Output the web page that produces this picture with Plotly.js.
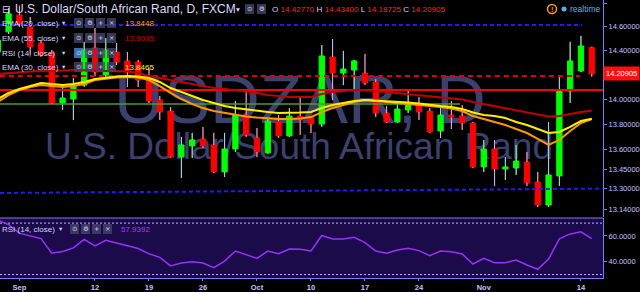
<!DOCTYPE html>
<html><head><meta charset="utf-8">
<script src="https://cdn.plot.ly/plotly-3.0.1.min.js"></script>
<style>html,body{margin:0;padding:0;background:#000;}#chart{width:640px;height:292px;}</style>
</head><body><div id="chart"></div>
<script>
// ---------------- data ----------------
const dates = ['2016-08-30','2016-08-31','2016-09-01','2016-09-02','2016-09-05','2016-09-06','2016-09-07','2016-09-08','2016-09-09',
'2016-09-12','2016-09-13','2016-09-14','2016-09-15','2016-09-16','2016-09-19','2016-09-20','2016-09-21','2016-09-22','2016-09-23',
'2016-09-26','2016-09-27','2016-09-28','2016-09-29','2016-09-30','2016-10-03','2016-10-04','2016-10-05','2016-10-06','2016-10-07',
'2016-10-10','2016-10-11','2016-10-12','2016-10-13','2016-10-14','2016-10-17','2016-10-18','2016-10-19','2016-10-20','2016-10-21',
'2016-10-24','2016-10-25','2016-10-26','2016-10-27','2016-10-28','2016-10-31','2016-11-01','2016-11-02','2016-11-03','2016-11-04',
'2016-11-07','2016-11-08','2016-11-09','2016-11-10','2016-11-11','2016-11-14','2016-11-15'];
const openP = [14.390,14.558,14.700,14.600,14.465,14.383,13.973,14.005,14.118,14.424,14.200,14.390,14.316,14.307,14.159,13.997,13.908,13.544,13.631,13.686,13.639,13.428,13.607,13.876,13.694,13.576,13.828,13.710,13.868,13.860,13.804,14.349,14.216,14.241,14.216,14.143,13.892,13.820,13.916,13.948,13.908,13.749,13.876,13.868,13.812,13.467,13.607,13.451,13.459,13.505,13.350,13.174,13.397,14.070,14.233,14.4277];
const highP = [14.507,14.760,14.780,14.683,14.490,14.407,14.094,14.175,14.474,14.590,14.507,14.465,14.390,14.324,14.258,14.029,13.940,13.702,13.734,13.781,13.734,13.734,13.989,14.078,13.773,13.852,13.876,13.932,14.013,13.868,14.448,14.498,14.399,14.325,14.374,14.167,13.948,13.973,14.086,14.021,13.932,13.932,13.989,13.956,13.820,13.678,13.678,13.544,13.639,13.583,13.428,13.820,14.183,14.474,14.524,14.434];
const lowP = [14.380,14.540,14.600,14.366,14.350,13.965,13.916,13.836,14.102,14.192,14.175,14.282,14.102,14.102,13.973,13.836,13.537,13.381,13.537,13.615,13.420,13.389,13.583,13.702,13.544,13.570,13.694,13.702,13.718,13.733,13.781,13.997,14.118,14.078,14.118,13.860,13.812,13.812,13.892,13.836,13.735,13.694,13.765,13.757,13.459,13.428,13.319,13.366,13.405,13.319,13.159,13.159,13.320,13.973,14.225,14.18725];
const closeP = [14.490,14.710,14.625,14.432,14.366,13.973,14.013,14.110,14.407,14.224,14.407,14.307,14.224,14.159,13.989,13.900,13.544,13.639,13.678,13.631,13.428,13.607,13.876,13.718,13.583,13.828,13.710,13.868,13.836,13.804,14.357,14.216,14.249,14.316,14.135,13.892,13.820,13.924,13.956,13.900,13.741,13.876,13.860,13.812,13.467,13.607,13.451,13.467,13.513,13.343,13.174,13.405,14.070,14.316,14.440,14.20905];
const ema20 = [13.981,14.037,14.078,14.102,14.118,14.110,14.102,14.110,14.127,14.159,14.171,14.179,14.183,14.179,14.159,14.110,14.054,14.005,13.965,13.932,13.908,13.892,13.876,13.864,13.856,13.848,13.844,13.844,13.848,13.860,13.900,13.932,13.956,13.981,13.997,13.989,13.981,13.973,13.969,13.961,13.948,13.940,13.928,13.908,13.868,13.844,13.820,13.796,13.765,13.733,13.686,13.639,13.678,13.749,13.812,13.8448];
const ema30 = [14.005,14.054,14.086,14.110,14.135,14.127,14.118,14.127,14.143,14.167,14.179,14.188,14.192,14.188,14.175,14.143,14.094,14.062,14.029,13.997,13.973,13.948,13.932,13.920,13.908,13.900,13.892,13.892,13.896,13.900,13.932,13.956,13.973,13.989,13.997,13.993,13.985,13.981,13.977,13.969,13.956,13.948,13.940,13.924,13.896,13.876,13.868,13.852,13.820,13.796,13.765,13.733,13.741,13.781,13.828,13.8465];
const ema55 = [14.208,14.216,14.224,14.229,14.233,14.233,14.237,14.241,14.241,14.237,14.233,14.233,14.229,14.216,14.192,14.175,14.159,14.143,14.127,14.110,14.094,14.086,14.078,14.066,14.054,14.037,14.029,14.021,14.021,14.021,14.045,14.062,14.070,14.078,14.078,14.070,14.062,14.054,14.045,14.037,14.029,14.021,14.013,14.001,13.981,13.965,13.948,13.932,13.916,13.900,13.880,13.864,13.868,13.884,13.900,13.9095];
const rsi14 = [72.4,68.9,62.2,60.2,58.0,46.6,47.9,50.7,57.3,52.2,56.7,54.6,52.4,50.2,46.1,43.4,36.7,39.0,40.0,39.0,35.3,40.5,48.3,45.6,42.6,48.3,46.2,49.9,49.6,48.3,60.4,57.7,57.7,59.0,54.9,48.3,46.5,49.1,50.4,48.6,44.7,48.3,47.8,46.0,38.2,42.6,39.2,39.2,41.3,37.4,34.1,42.1,57.7,61.6,63.3,57.9392];
const tickDates = ['2016-09-01','2016-09-12','2016-09-19','2016-09-26','2016-10-03','2016-10-10','2016-10-17','2016-10-24','2016-11-01','2016-11-14'];
const tickText = ['Sep','12','19','26','Oct','10','17','24','Nov','14'];
const priceTicks = [14.8,14.6,14.4,14.0,13.8,13.6,13.45,13.3,13.14];
const rsiTicks = [60,40];
const rsiLevels = [70,30];
// drawn horizontal levels (price, first bar index, last bar index)
const levelPrice = [14.616,14.192,14.078,13.965];
const levelFrom  = [0.2,0.2,0.2,0.2];
const levelTo    = [54.1,53.9,56.2,42.8];
// drawn trend line (bar index, price)
const trendX = [0.2,55.76];
const trendY = [13.266,13.299];

// ---------------- layout helpers ----------------
const FONT = 'Liberation Sans, Arial, sans-serif';
const W=640,H=292,ML=0,MR=37,MT=0,MB=14;
const PW=W-ML-MR, PH=H-MT-MB;            // 603 x 278
const xr=[0.204,56.04];
const pxToX = p => xr[0] + p*(xr[1]-xr[0])/PW;
const PRICE_BOTTOM_PX = 217, RSI_TOP_PX = 218;
const priceDom=[1-PRICE_BOTTOM_PX/PH,1], rsiDom=[0,1-RSI_TOP_PX/PH];
const AX='#7b7bff', TXT='#c4c4ff', LBL='#d4d4ff';
const idx = dates.map((d,i)=>i);
const N = dates.length;

const traces = [];
// watermark (base subplot, drawn beneath the price subplot)
traces.push({type:'scatter',mode:'text',x:[pxToX(300)],y:[1-106/PRICE_BOTTOM_PX],text:['USDZAR, D'],
  textfont:{family:FONT,size:69,color:'#3c406f'},xaxis:'x',yaxis:'y',hoverinfo:'skip',cliponaxis:false});
traces.push({type:'scatter',mode:'text',x:[pxToX(299)],y:[1-150/PRICE_BOTTOM_PX],text:['U.S. Dollar/South African Rand'],
  textfont:{family:FONT,size:37,color:'#3c406f'},xaxis:'x',yaxis:'y',hoverinfo:'skip',cliponaxis:false});

// candles
traces.push({type:'candlestick',x:idx,open:openP,high:highP,low:lowP,close:closeP,xaxis:'x',yaxis:'y3',
  increasing:{line:{color:'#00ff00',width:1},fillcolor:'#00ff00'},
  decreasing:{line:{color:'#ff0000',width:1},fillcolor:'#ff0000'},whiskerwidth:0,hoverinfo:'skip'});
// wicks in light lavender (upper and lower parts only)
const wx=[],wy=[];
for(let i=0;i<N;i++){
  const top=Math.max(openP[i],closeP[i]), bot=Math.min(openP[i],closeP[i]);
  wx.push(i,i,null,i,i,null); wy.push(highP[i],top,null,bot,lowP[i],null);
}
traces.push({type:'scatter',mode:'lines',x:wx,y:wy,xaxis:'x',yaxis:'y3',line:{color:'#c0c0ff',width:1},connectgaps:false,hoverinfo:'skip'});

// horizontal drawn levels
const levelStyle=[{color:'#1c1cff',width:2,dash:'4px,3px'},{color:'#e00000',width:2,dash:'5px,4px'},{color:'#ff0000',width:2},{color:'#4e9a35',width:1.5}];
levelPrice.forEach((p,k)=>traces.push({type:'scatter',mode:'lines',x:[levelFrom[k],levelTo[k]],y:[p,p],xaxis:'x',yaxis:'y3',line:levelStyle[k],hoverinfo:'skip'}));
traces.push({type:'scatter',mode:'lines',x:trendX,y:trendY,xaxis:'x',yaxis:'y3',line:{color:'#1c1cff',width:2,dash:'4px,3px'},hoverinfo:'skip'});

// EMAs
traces.push({type:'scatter',mode:'lines',x:idx,y:ema55,xaxis:'x',yaxis:'y3',line:{color:'#c00000',width:2},hoverinfo:'skip'});
traces.push({type:'scatter',mode:'lines',x:idx,y:ema20,xaxis:'x',yaxis:'y3',line:{color:'#ff9800',width:2},hoverinfo:'skip'});
traces.push({type:'scatter',mode:'lines',x:idx,y:ema30,xaxis:'x',yaxis:'y3',line:{color:'#ffee00',width:2},hoverinfo:'skip'});

// RSI
rsiLevels.forEach(v=>traces.push({type:'scatter',mode:'lines',x:[xr[0],xr[1]],y:[v,v],xaxis:'x',yaxis:'y2',line:{color:'#b8b8ff',width:1,dash:'2px,2px'},hoverinfo:'skip'}));
traces.push({type:'scatter',mode:'lines',x:idx,y:rsi14,xaxis:'x',yaxis:'y2',line:{color:'#9a30ff',width:1.5},hoverinfo:'skip'});

// ---------------- overlays (legend rows, buttons, labels) ----------------
const shapes=[], ann=[];
const paperX = p=>p/PW, paperY = p=>1-p/PH;
function txt(x,y,text,o){return Object.assign({xref:'paper',yref:'paper',x:paperX(x),y:paperY(y),text:text,showarrow:false,
  xanchor:'left',yanchor:'middle',borderpad:0,font:{family:FONT,size:8,color:LBL}},o||{});}
function btn(x,y,glyph,fill){
  shapes.push({type:'rect',xref:'paper',yref:'paper',x0:paperX(x),x1:paperX(x+9),y0:paperY(y+5),y1:paperY(y-5),
    fillcolor:fill,opacity:0.78,line:{width:0},layer:'above'});
  ann.push(txt(x+4.5,y,glyph,{xanchor:'center',font:{family:'DejaVu Sans',size:6.5,color:'#dcdcf5'}}));
}
// RSI panel background & separator
shapes.push({type:'rect',xref:'paper',yref:'paper',x0:0,x1:1,y0:rsiDom[0],y1:rsiDom[1],fillcolor:'#1b0b4a',line:{width:0},layer:'below'});
shapes.push({type:'line',xref:'paper',yref:'paper',x0:0,x1:1,y0:rsiDom[1],y1:rsiDom[1],line:{color:AX,width:1},layer:'above'});

// title row
ann.push(txt(1,9,'⊟',{font:{family:'DejaVu Sans',size:10,color:LBL}}));
ann.push(txt(14,9,'U.S. Dollar/South African Rand, D, FXCM',{font:{family:FONT,size:12,color:'#dcdcff'}}));
ann.push(txt(235,9,'▾',{font:{family:'DejaVu Sans',size:7.5,color:LBL}}));
btn(245,9,'⊙','#45456a'); btn(257,9,'⚙','#45456a');
const L=N-1, f5=v=>v.toFixed(5), lab=s=>'<span style="color:'+LBL+'">'+s+'</span>';
ann.push(txt(271,9,lab('O')+' '+f5(openP[L])+' '+lab('H')+' '+f5(highP[L])+' '+lab('L')+' '+f5(lowP[L])+' '+lab('C')+' '+f5(closeP[L]),
  {font:{family:FONT,size:8.1,color:'#ff2020'}}));

// indicator legend rows
const rows=[{t:'EMA (20, close)',y:23,v:ema20[L].toFixed(4),c:'#ff9800'},
            {t:'EMA (55, close)',y:38,v:ema55[L].toFixed(4),c:'#d00000'},
            {t:'RSI (14, close)',y:53,v:'',c:'',hl:true},
            {t:'EMA (30, close)',y:67,v:ema30[L].toFixed(4),c:'#ffff00'}];
rows.forEach(r=>{
  ann.push(txt(1,r.y,r.t));
  ann.push(txt(61,r.y,'▾',{font:{family:'DejaVu Sans',size:6.5,color:LBL}}));
  btn(74,r.y,'⊙',r.hl?'#4a90e6':'#45456a'); btn(85,r.y,'⚙','#45456a'); btn(96,r.y,'+','#45456a'); btn(107,r.y,'×','#45456a');
  if(r.v) ann.push(txt(124,r.y,r.v,{font:{family:FONT,size:8,color:r.c}}));
});
// RSI pane legend
ann.push(txt(1,229,'RSI (14, close)'));
ann.push(txt(58,229,'▾',{font:{family:'DejaVu Sans',size:6.5,color:LBL}}));
btn(70,229,'⊙','#45456a'); btn(81,229,'⚙','#45456a'); btn(92,229,'+','#45456a'); btn(103,229,'×','#45456a');
ann.push(txt(120,229,rsi14[L].toFixed(4),{font:{family:FONT,size:8,color:'#a040ff'}}));

// top-right status
shapes.push({type:'circle',xref:'paper',yref:'paper',x0:paperX(547.5),x1:paperX(556.5),y0:paperY(13.5),y1:paperY(4.5),line:{color:'#ff9800',width:1.5},layer:'above'});
ann.push(txt(552,9,'!',{xanchor:'center',font:{family:FONT,size:7,color:'#ff9800',weight:'bold'}}));
shapes.push({type:'circle',xref:'paper',yref:'paper',x0:paperX(561.5),x1:paperX(566.5),y0:paperY(11.5),y1:paperY(6.5),fillcolor:'#4ab4f0',line:{width:0},layer:'above'});
ann.push(txt(569,9,'realtime',{font:{family:FONT,size:8.5,color:'#5ab4e6'}}));

// last price marker on the axis
ann.push({xref:'paper',yref:'y3',x:1,y:Math.log10(closeP[L]),xanchor:'left',yanchor:'middle',showarrow:false,
  text:closeP[L].toFixed(5),bgcolor:'#ff1010',borderpad:2,font:{family:FONT,size:7.5,color:'#ffffff'}});

const tickFont={family:FONT,size:7.5,color:TXT};
const layout={
  width:W,height:H,margin:{l:ML,r:MR,t:MT,b:MB,pad:0},
  paper_bgcolor:'#000000',plot_bgcolor:'rgba(0,0,0,0)',
  showlegend:false,hovermode:false,dragmode:false,
  xaxis:{range:xr,anchor:'y2',domain:[0,1],showgrid:false,zeroline:false,showline:true,linecolor:AX,linewidth:1,
    ticks:'outside',ticklen:2,tickcolor:AX,tickmode:'array',tickvals:tickDates.map(d=>dates.indexOf(d)),ticktext:tickText,
    tickfont:{family:FONT,size:7.5,color:TXT,weight:'bold'},rangeslider:{visible:false},fixedrange:true},
  yaxis:{domain:priceDom,range:[0,1],visible:false,fixedrange:true},
  yaxis3:{overlaying:'y',type:'log',range:[Math.log10(13.0835),Math.log10(14.828)],side:'right',anchor:'x',
    showgrid:false,zeroline:false,showline:true,linecolor:AX,linewidth:1,ticks:'outside',ticklen:3,tickcolor:AX,
    tickmode:'array',tickvals:priceTicks,ticktext:priceTicks.map(v=>v.toFixed(5)),tickfont:tickFont,fixedrange:true},
  yaxis2:{domain:rsiDom,range:[27.3,74.0],side:'right',anchor:'x',showgrid:false,zeroline:false,showline:true,
    linecolor:AX,linewidth:1,ticks:'outside',ticklen:3,tickcolor:AX,tickmode:'array',tickvals:rsiTicks,
    ticktext:rsiTicks.map(v=>v.toFixed(4)),tickfont:tickFont,fixedrange:true},
  shapes:shapes,annotations:ann
};
Plotly.newPlot('chart',traces,layout,{staticPlot:true,displayModeBar:false});
</script></body></html>
